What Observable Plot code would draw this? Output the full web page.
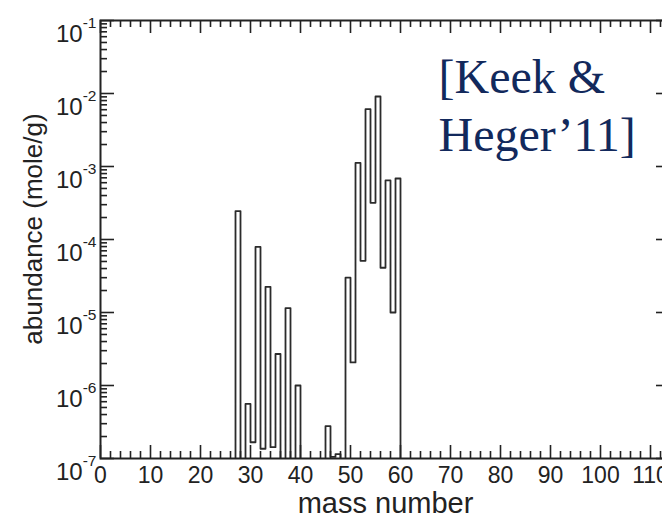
<!DOCTYPE html>
<html><head><meta charset="utf-8">
<script src="https://cdn.jsdelivr.net/npm/d3@7"></script>
<script src="https://cdn.jsdelivr.net/npm/@observablehq/plot@0.6"></script>
<style>
html,body{margin:0;padding:0;background:#fff;overflow:hidden;width:662px;height:518px}
#chart{width:662px;height:518px;overflow:hidden}
#chart svg{max-width:none !important;display:block}
</style></head><body><div id="chart"></div>
<script>
// mass number of each step (left edge of the bin) and abundance (mole/g); 1e-12 = below plot floor
const massNumber = [26,27,28,29,30,31,32,33,34,35,36,37,38,39,40,41,42,43,44,45,46,47,48,49,50,51,52,53,54,55,56,57,58,59,60,61];
const abundance  = [1e-12,2.45e-4,1e-12,5.6e-7,1.67e-7,7.9e-5,1.36e-7,2.25e-5,1.43e-7,2.7e-6,1e-12,1.15e-5,1e-12,1.0e-6,1e-12,1e-12,1e-12,1e-12,1e-12,2.77e-7,1.05e-7,1.15e-7,1e-12,3.0e-5,2.07e-6,1.12e-3,5.1e-5,6.1e-3,3.18e-4,9.1e-3,4.1e-5,6.44e-4,1.0e-5,6.85e-4,1e-12,1e-12];
const xTickLabels = [0,10,20,30,40,50,60,70,80,90,100,110];
const yTickExponents = [-1,-2,-3,-4,-5,-6,-7];
const annotationText = "[Keek &\nHeger\u201911]";
const xTitle = "mass number";
const yTitle = "abundance (mole/g)";

const data = massNumber.map((m, i) => ({mass: m, abundance: abundance[i]}));

const W = 680, H = 518, ML = 100, MR = 10, MT = 20, MB = 60;
const plotW = W - ML - MR, plotH = H - MT - MB;
const xMajor = d3.range(0, 115, 10);
const xMinor = d3.range(0, 115, 2).filter(v => v % 10 !== 0);
const yMajor = yTickExponents.map(e => 10 ** e);
const yMinor = [];
for (let e = -7; e <= -2; e++) for (let k = 2; k <= 9; k++) yMinor.push(k * 10 ** e);

const ink = "#222";
const sans = "'Liberation Sans', Arial, Helvetica, sans-serif";

const chart = Plot.plot({
  width: W, height: H,
  marginLeft: ML, marginRight: MR, marginTop: MT, marginBottom: MB,
  style: {fontFamily: sans, background: "#fff", color: ink, maxWidth: "none"},
  x: {domain: [0, 114], axis: null},
  y: {type: "log", domain: [1e-7, 1e-1], axis: null},
  marks: [
    Plot.line(data, {x: "mass", y: "abundance", curve: "step-after", stroke: "#2b2b2b", strokeWidth: 1.8, clip: true}),
    Plot.tickX(xMajor, {x: d => d, insetTop: plotH - 13, stroke: ink, strokeWidth: 1.6}),
    Plot.tickX(xMinor, {x: d => d, insetTop: plotH - 7, stroke: ink, strokeWidth: 1.6}),
    Plot.tickX(xMajor, {x: d => d, insetBottom: plotH - 13, stroke: ink, strokeWidth: 1.6}),
    Plot.tickX(xMinor, {x: d => d, insetBottom: plotH - 7, stroke: ink, strokeWidth: 1.6}),
    Plot.tickY(yMajor, {y: d => d, insetRight: plotW - 14, stroke: ink, strokeWidth: 1.6}),
    Plot.tickY(yMinor, {y: d => d, insetRight: plotW - 7, stroke: ink, strokeWidth: 1.6}),
    Plot.tickY(yMajor, {y: d => d, insetLeft: plotW - 14, stroke: ink, strokeWidth: 1.6}),
    Plot.tickY(yMinor, {y: d => d, insetLeft: plotW - 7, stroke: ink, strokeWidth: 1.6}),
    Plot.frame({stroke: ink, strokeWidth: 2}),
    Plot.text(xTickLabels, {x: d => d, text: d => String(d), frameAnchor: "bottom", dy: 17, lineAnchor: "middle", fontSize: 23, fill: ink}),
    Plot.text(yTickExponents, {y: e => 10 ** e, text: e => "E" + e, frameAnchor: "left", dx: -4, textAnchor: "end", fontSize: 23, fill: ink}),
    Plot.text([xTitle], {text: d => d, frameAnchor: "bottom", dy: 45, lineAnchor: "middle", fontSize: 29, fill: ink}),
    Plot.text([yTitle], {text: d => d, frameAnchor: "left", rotate: -90, dx: -67, dy: -10.5, lineAnchor: "middle", textAnchor: "middle", fontSize: 26, fill: ink}),
    Plot.text([annotationText], {text: d => d, frameAnchor: "top-left", dx: 338, dy: 32, lineAnchor: "top", lineHeight: 1.195, textAnchor: "start", fontSize: 48, fontFamily: "'Liberation Serif', 'Times New Roman', serif", fill: "#12295c"})
  ]
});
chart.style.maxWidth = "none";

// power-of-ten tick labels with superscript exponents
d3.select(chart).selectAll("text").each(function () {
  const s = this.textContent;
  if (!/^E-\d$/.test(s)) return;
  const exp = s.slice(1);
  const t = d3.select(this);
  t.attr("dy", null).text("");
  t.append("tspan").attr("dy", 14).attr("font-size", 24).text("10");
  t.append("tspan").attr("dy", -14).attr("font-size", 15.5).text(exp);
});

document.getElementById("chart").append(chart);
</script></body></html>
